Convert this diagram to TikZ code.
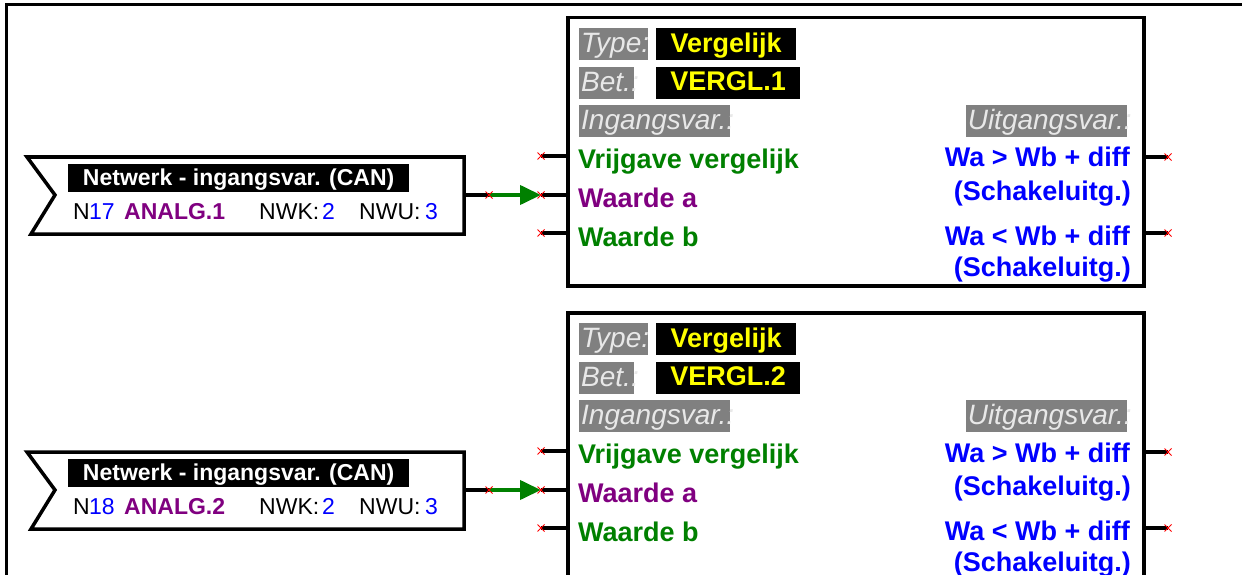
\documentclass[tikz,border=0pt]{standalone}
\usepackage{fontspec}
\setmainfont{Liberation Sans}
\usetikzlibrary{arrows.meta}

\definecolor{fbdgreen}{RGB}{0,128,0}
\definecolor{fbdpurple}{RGB}{128,0,128}
\definecolor{fbdblue}{RGB}{0,0,255}
\definecolor{fbdyellow}{RGB}{255,255,0}
\definecolor{fbdgray}{RGB}{128,128,128}
\definecolor{fbdlight}{RGB}{232,232,232}

\tikzset{
  fbd/.style={line width=3.5pt, draw=black, fill=white},
  graylbl/.style={fill=fbdgray, text=fbdlight, font=\itshape\fontsize{28}{30}\selectfont,
    inner xsep=2pt, inner ysep=0pt, text height=22pt, text depth=5pt, minimum height=32pt,
    anchor=north west},
  blacklbl/.style={fill=black, text=fbdyellow, font=\bfseries\fontsize{27}{29}\selectfont,
    inner sep=0pt, text height=21pt, text depth=5pt, minimum height=32pt, anchor=north west},
  nethead/.style={fill=black, text=white, font=\bfseries\fontsize{23}{25}\selectfont,
    inner sep=0pt, text height=18pt, text depth=4pt, minimum height=28pt, anchor=north west},
  intxt/.style={anchor=base west, inner sep=0pt, font=\bfseries\fontsize{27}{29}\selectfont},
  outtxt/.style={anchor=base east, inner sep=0pt, font=\bfseries\fontsize{27}{29}\selectfont, text=fbdblue},
  nettxt/.style={anchor=base west, inner sep=0pt, font=\fontsize{23}{25}\selectfont},
  pinline/.style={line width=3.5pt, draw=black},
  flowline/.style={line width=4pt, draw=fbdgreen, -{Triangle[length=21pt,width=19pt]}},
  redx/.pic={\draw[red, line width=0.9pt] (-3.5,-3.5) -- (3.5,3.5) (-3.5,3.5) -- (3.5,-3.5);}
}

\begin{document}
\begin{tikzpicture}[x=1pt,y=-1pt]
\useasboundingbox (0,0) rectangle (1242,575);
\clip (0,0) rectangle (1242,575);
\fill[white] (0,0) rectangle (1242,575);

% sheet frame
\draw[line width=3pt] (6,590) -- (6,5) -- (1260,5);

\foreach \k/\dy/\netno/\anname/\cmpname in {1/0/17/ANALG.1/VERGL.1, 2/295/18/ANALG.2/VERGL.2}{
\begin{scope}[shift={(0,\dy)}]
  % pin positions
  \coordinate (pinA\k) at (541,156);
  \coordinate (pinB\k) at (541,195);
  \coordinate (pinC\k) at (541,233);
  \coordinate (pinY\k) at (1168,157);
  \coordinate (pinZ\k) at (1168,233);

  % comparator block
  \node[fbd, anchor=north west, minimum width=576pt, minimum height=268pt, inner sep=0pt] (blk\k) at (566,16) {};
  \draw[pinline] (pinA\k) -- (pinA\k -| blk\k.west);
  \draw[pinline] (pinB\k) -- (pinB\k -| blk\k.west);
  \draw[pinline] (pinC\k) -- (pinC\k -| blk\k.west);
  \draw[pinline] (pinY\k) -- (pinY\k -| blk\k.east);
  \draw[pinline] (pinZ\k) -- (pinZ\k -| blk\k.east);

  \node[graylbl, text width=65pt] (type\k) at (579,28) {Type:};
  \node[blacklbl, minimum width=140pt] (typev\k) at (656,28) {Vergelijk};
  \node[graylbl, text width=51pt] (bet\k) at (579,66.5) {Bet.:};
  \node[blacklbl, minimum width=144pt] (betv\k) at (656,66.5) {\cmpname};
  \node[graylbl, text width=147pt] (ing\k) at (579,105) {Ingangsvar.:};
  \node[graylbl, text width=157pt, align=right, anchor=north east] (uit\k) at (1127,105) {Uitgangsvar.:};

  \node[intxt, text=fbdgreen] (inA\k) at (578,168) {Vrijgave vergelijk};
  \node[intxt, text=fbdpurple] (inB\k) at (578,207) {Waarde a};
  \node[intxt, text=fbdgreen] (inC\k) at (578,246) {Waarde b};

  \node[outtxt] (outA\k) at (1130,167) {Wa > Wb + diff};
  \node[outtxt] (outAs\k) at (1131,200) {(Schakeluitg.)};
  \node[outtxt] (outB\k) at (1130,245) {Wa < Wb + diff};
  \node[outtxt] (outBs\k) at (1131,276) {(Schakeluitg.)};

  % network input
  \draw[fbd] (27,157) -- (464,157) -- (464,234) -- (31,234) -- (55,195) -- cycle;
  \coordinate (net\k) at (464,195);
  \coordinate (netx\k) at (489,195);
  \node[nethead, minimum width=341pt] (nethd\k) at (68,164) {Netwerk - ingangsvar. (CAN)};
  \node[nettxt] (nN\k) at (73,219) {N};
  \node[nettxt, text=fbdblue] (nNr\k) at (89,219) {\netno};
  \node[nettxt, text=fbdpurple, font=\bfseries\fontsize{23}{25}\selectfont] (nAn\k) at (124,219) {\anname};
  \node[nettxt] (nK\k) at (259,219) {NWK:};
  \node[nettxt, text=fbdblue] (nKv\k) at (322,219) {2};
  \node[nettxt] (nU\k) at (359,219) {NWU:};
  \node[nettxt, text=fbdblue] (nUv\k) at (425,219) {3};

  % connection
  \draw[pinline] (net\k) -- (netx\k);
  \draw[flowline] (netx\k) -- (pinB\k);

  \pic at (netx\k) {redx};
  \pic at (pinA\k) {redx};
  \pic at (pinB\k) {redx};
  \pic at (pinC\k) {redx};
  \pic at (pinY\k) {redx};
  \pic at (pinZ\k) {redx};
\end{scope}
}
\end{tikzpicture}
\end{document}
